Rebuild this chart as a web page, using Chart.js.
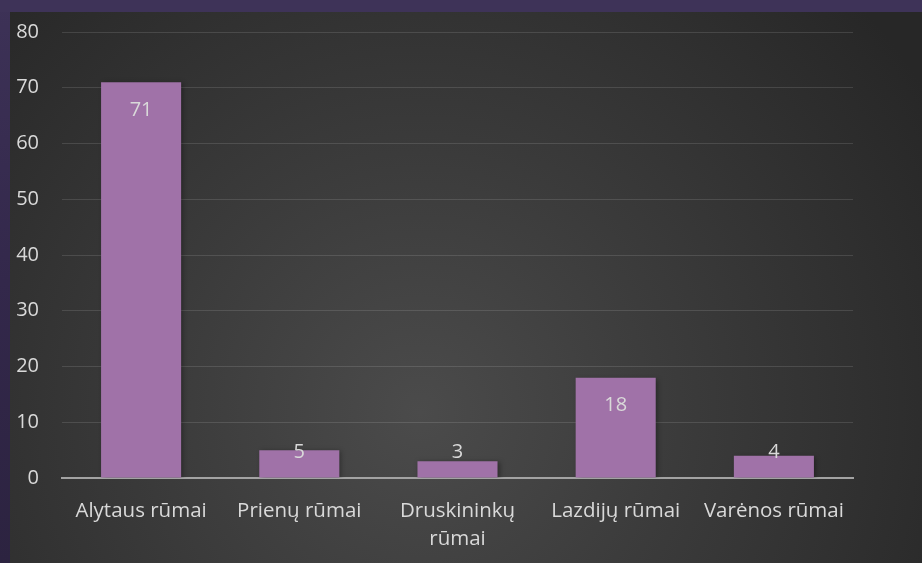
<!DOCTYPE html>
<html>
<head>
<meta charset="utf-8">
<script src="https://cdn.jsdelivr.net/npm/chart.js@4.4.1/dist/chart.umd.min.js"></script>
<style>
  html, body { margin: 0; padding: 0; width: 922px; height: 563px; overflow: hidden; }
  body { background: linear-gradient(to bottom, #3d3257 0%, #33284b 50%, #2c2340 100%); position: relative; }
  #panel { position: absolute; left: 10px; top: 12px; width: 912px; height: 551px;
    background: radial-gradient(circle at 410px 400px, #4b4b4b 0px, #3b3b3b 260px, #272727 600px); }
  #top { position: absolute; left: 0; top: 0; width: 922px; height: 12px; background: #3e3358; }
  #wrap { position: absolute; left: 0; top: 0; width: 922px; height: 563px; }
</style>
</head>
<body>
<div id="top"></div>
<div id="panel"></div>
<div id="wrap"><canvas id="c" width="922" height="563"></canvas></div>
<script>
const categories = ["Alytaus rūmai", "Prienų rūmai", ["Druskininkų", "rūmai"], "Lazdijų rūmai", "Varėnos rūmai"];
const values = [71, 5, 3, 18, 4];
const yTicks = [0, 10, 20, 30, 40, 50, 60, 70, 80];

const FONT = "'Open Sans', sans-serif";
const TEXT = "#d9d9d9";

const dataLabels = {
  id: 'dataLabels',
  afterDatasetsDraw(chart) {
    const ctx = chart.ctx;
    const meta = chart.getDatasetMeta(0);
    ctx.save();
    ctx.font = "20px " + FONT;
    ctx.fillStyle = TEXT;
    ctx.textAlign = 'center';
    ctx.textBaseline = 'middle';
    meta.data.forEach((bar, i) => {
      const y = Math.min(bar.y + 28, bar.base - 25);
      ctx.fillText(String(values[i]), bar.x, y);
    });
    ctx.restore();
  }
};

const barShadow = {
  id: 'barShadow',
  beforeDatasetsDraw(chart) {
    const ctx = chart.ctx;
    ctx.save();
    ctx.shadowColor = 'rgba(0,0,0,0.35)';
    ctx.shadowBlur = 5;
    ctx.shadowOffsetX = 2;
    ctx.shadowOffsetY = 1;
  },
  afterDatasetsDraw(chart) {
    chart.ctx.restore();
  }
};

new Chart(document.getElementById('c'), {
  type: 'bar',
  data: {
    labels: categories,
    datasets: [{
      data: values,
      backgroundColor: '#a072a8',
      borderWidth: 0,
      barPercentage: 0.506,
      categoryPercentage: 1.0
    }]
  },
  options: {
    responsive: false,
    animation: false,
    events: [],
    layout: { padding: { top: 32, right: 69, bottom: 0, left: 0 } },
    plugins: { legend: { display: false }, tooltip: { enabled: false } },
    scales: {
      x: {
        grid: { display: false, drawTicks: false },
        border: { display: true, color: '#a3a3a3', width: 2 },
        ticks: { color: TEXT, font: { family: FONT, size: 20.5, lineHeight: 1.33 }, padding: 20, maxRotation: 0, autoSkip: false },
        afterFit(scale) { scale.height = 85; scale.paddingLeft = 0; scale.paddingRight = 0; }
      },
      y: {
        min: 0, max: 80,
        afterBuildTicks(scale) { scale.ticks = yTicks.map(v => ({ value: v })); },
        grid: { color: 'rgba(255,255,255,0.12)', lineWidth: 1, drawTicks: false },
        border: { display: false },
        ticks: { color: TEXT, font: { family: FONT, size: 20 }, padding: 23 },
        afterFit(scale) { scale.width = 62; scale.paddingTop = 0; scale.paddingBottom = 0; }
      }
    }
  },
  plugins: [barShadow, dataLabels]
});
</script>
</body>
</html>
